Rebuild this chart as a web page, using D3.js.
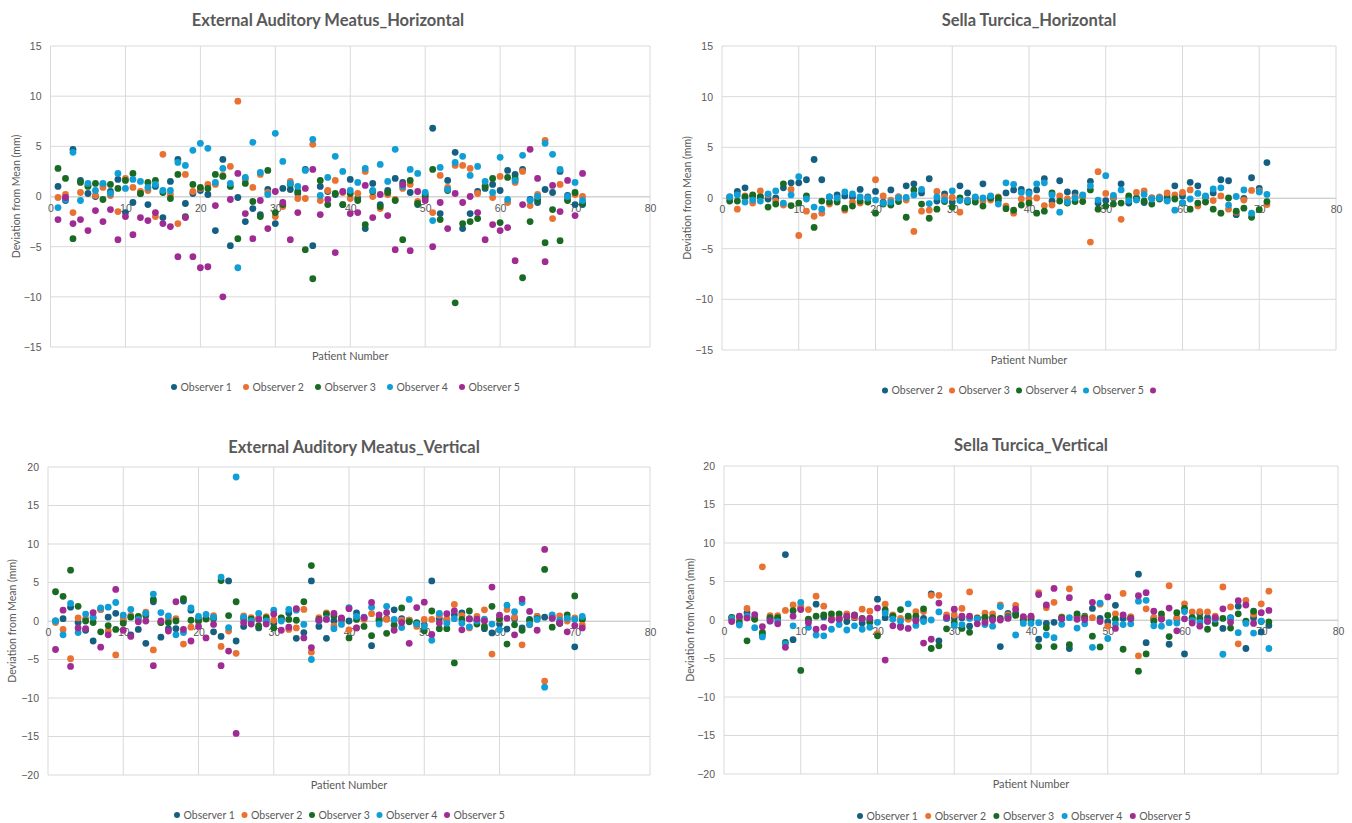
<!DOCTYPE html>
<html>
<head>
<meta charset="utf-8">
<script src="https://cdn.jsdelivr.net/npm/d3@7"></script>
<style>
  html, body { margin: 0; padding: 0; background: #ffffff; }
  svg { display: block; font-family: Lato, "Open Sans", "Liberation Sans", sans-serif; }
</style>
</head>
<body>
<svg id="chart" width="1352" height="823"></svg>
<script>
// ---------------- DATA ----------------
const patients = [1,2,3,4,5,6,7,8,9,10,11,12,13,14,15,16,17,18,19,20,21,22,23,24,25,26,27,28,29,30,31,32,33,34,35,36,37,38,39,40,41,42,43,44,45,46,47,48,49,50,51,52,53,54,55,56,57,58,59,60,61,62,63,64,65,66,67,68,69,70,71];
const xTicks = [0,10,20,30,40,50,60,70,80];
const yTicksH = [-15,-10,-5,0,5,10,15];
const yTicksV = [-20,-15,-10,-5,0,5,10,15,20];
const colors = ["#156082","#E97132","#196B24","#0F9ED5","#A02B93"];

const titles = ["External Auditory Meatus_Horizontal","Sella Turcica_Horizontal","External Auditory Meatus_Vertical","Sella Turcica_Vertical"];
const yAxisTitle = "Deviation from Mean (mm)";
const xAxisTitle = "Patient Number";
const legendNames = ["Observer 1","Observer 2","Observer 3","Observer 4","Observer 5"];
const legendNamesSTH = ["Observer 2","Observer 3","Observer 4","Observer 5",""];

// Panel 1: External Auditory Meatus_Horizontal
const eamH_obs1 = [1.0,-0.4,4.7,1.6,0.3,0.0,1.2,0.5,1.7,-1.6,-0.6,0.3,-0.8,1.0,-2.1,1.5,3.7,-0.7,0.3,0.6,0.2,-3.4,3.7,-4.9,-0.1,-2.5,-1.2,-1.8,0.7,-2.7,0.8,0.7,0.3,2.7,-4.9,1.0,0.5,0.2,-0.8,1.7,-0.2,-3.2,1.3,-0.8,0.6,1.8,1.4,0.4,-0.8,0.2,6.8,-1.7,1.6,4.4,-3.2,-1.7,0.5,0.8,1.2,0.6,2.6,2.2,2.7,-0.3,-0.6,0.7,0.4,2.5,0.1,-0.8,-0.8];
const eamH_obs2 = [-0.1,0.2,-1.6,0.4,1.1,0.1,0.9,0.1,-1.5,1.8,0.9,0.5,0.6,-2.0,4.2,0.2,-2.7,2.2,0.5,0.8,1.2,1.2,2.1,3.0,9.5,1.7,0.9,2.2,0.4,-2.0,-1.0,1.5,-0.2,-0.2,5.2,-0.4,0.6,1.6,0.4,-0.2,0.3,2.5,0.0,-1.2,0.2,-0.3,0.8,1.2,-0.5,-0.2,-1.6,2.1,0.9,3.1,3.1,2.8,0.3,1.1,-0.1,2.0,-0.6,1.4,2.5,-0.9,0.2,5.6,-2.2,1.2,-0.2,0.2,0.0];
const eamH_obs3 = [2.8,1.8,-4.2,1.4,1.0,1.3,-0.3,1.2,0.8,1.6,2.3,0.3,1.4,1.6,0.4,-0.2,2.2,-2.0,1.2,0.9,0.8,2.2,2.0,1.0,-4.2,1.3,-0.5,-2.0,2.6,-1.6,-0.8,1.2,0.5,-5.3,-8.2,1.6,-0.8,0.3,-0.8,0.3,-0.4,-2.8,0.5,-1.0,0.4,-0.4,-4.3,1.6,-0.7,0.0,2.7,-2.3,0.6,-10.6,-2.7,-2.5,-2.2,1.0,1.8,-2.6,1.9,1.8,-8.1,-2.5,-0.3,-4.6,-1.3,-4.4,-0.4,0.4,-0.7];
const eamH_obs4 = [-1.1,-0.3,4.4,-0.4,1.3,0.6,1.3,0.3,2.3,0.8,1.7,1.5,0.9,1.2,0.6,0.6,3.4,3.1,4.6,5.3,4.8,1.4,2.8,1.3,-7.1,1.9,5.4,2.4,0.2,6.3,3.5,1.3,1.0,2.6,5.7,0.1,1.9,4.0,2.5,0.6,1.4,2.8,0.6,3.2,1.5,4.7,1.0,2.7,2.3,0.4,-2.4,2.9,0.7,3.4,4.0,2.1,3.0,1.5,0.4,3.9,-0.3,1.6,4.1,-0.4,0.0,5.3,4.2,2.7,0.0,1.4,-0.4];
const eamH_obs5 = [-2.3,-0.1,-2.7,-2.3,-3.4,-1.4,-2.5,-1.3,-4.3,-2.0,-3.8,-2.1,-2.4,-1.6,-2.7,-3.0,-6.0,-2.1,-6.0,-7.1,-7.0,-0.9,-10.0,-0.3,2.3,-1.7,-4.2,-0.4,-3.2,0.5,-0.6,-4.3,-1.6,0.8,2.7,-1.8,-0.3,-5.6,0.5,-1.7,-1.6,1.1,-2.1,0.2,-1.9,-5.3,1.2,-5.4,0.5,-0.4,-5.0,-0.6,-3.2,0.3,-0.6,0.0,-1.6,-4.3,-2.8,-3.4,-3.1,-6.4,-0.8,4.7,1.8,-6.5,1.1,-1.5,1.6,-1.9,2.3];

// Panel 2: Sella Turcica_Horizontal (legend: Observer 2..5)
const stH_obs2 = [0.1,0.65,1.0,0.2,0.1,-0.1,0.0,1.0,1.5,1.5,1.8,3.8,1.8,0.1,0.3,0.2,0.1,0.85,0.1,0.65,-0.4,0.8,0.1,1.2,1.4,0.5,1.9,-0.3,0.4,-0.4,1.2,0.5,0.0,1.4,0.1,-0.25,0.5,0.8,0.85,0.6,0.8,1.9,-0.3,1.7,0.6,0.5,0.2,1.65,-0.5,-0.25,0.0,1.4,-0.5,0.0,-0.45,0.0,0.0,0.1,1.2,0.2,1.55,1.2,0.1,0.5,1.8,1.7,-1.65,-0.05,2.0,0.95,3.5];
const stH_obs3 = [0.0,-1.1,0.2,-0.5,0.7,0.3,-0.3,-0.7,0.85,-3.7,-1.3,-1.8,-1.5,-0.6,-0.2,-1.2,-0.4,-0.5,0.0,1.8,0.2,-0.2,0.1,-0.2,-3.3,-1.3,-1.2,0.65,0.1,0.05,-1.4,-0.2,-0.3,-0.3,-0.2,0.1,-0.8,-1.5,-0.1,-0.1,0.0,-0.75,-0.7,0.2,-0.1,0.1,0.1,-4.35,2.6,0.45,0.1,-2.1,0.0,0.55,0.7,0.0,0.1,0.5,0.3,0.55,0.8,-0.8,-0.3,-0.25,0.2,-1.1,-1.4,-0.2,0.75,0.7,-0.65];
const stH_obs4 = [-0.3,-0.3,0.1,0.3,0.1,-0.9,-0.6,1.4,-0.75,-0.5,0.2,-2.9,-0.3,-0.4,-0.4,-1.0,-0.8,-0.3,-0.4,-1.5,-0.6,-0.7,-0.35,-1.9,0.8,-0.6,-2.0,-1.1,-0.35,-0.9,0.0,-0.4,-0.4,-0.8,0.0,0.0,-1.05,-1.2,-0.7,-0.5,-1.5,-1.3,0.5,-0.3,-0.5,-0.35,-0.35,0.8,-1.1,-0.8,-0.6,-0.5,0.2,-0.1,-0.3,-0.6,-0.1,-0.2,-0.1,-0.5,-1.1,-0.5,-0.4,-1.1,-1.5,0.0,-1.3,-1.0,-1.9,-1.15,-0.35];
const stH_obs5 = [0.1,0.3,-0.4,-0.2,-0.3,0.4,0.7,-0.5,0.3,2.1,-0.1,-0.9,-1.1,0.1,0.0,0.6,0.4,0.1,0.0,-0.2,-0.5,-0.4,0.0,0.05,0.3,0.85,-0.55,0.1,-0.2,0.7,-0.25,-0.25,0.1,0.0,0.2,-0.6,1.5,1.35,0.55,0.45,1.4,1.5,0.3,-1.4,-0.4,0.0,0.3,1.2,-0.2,2.2,0.25,0.8,-0.25,-0.2,0.35,-0.1,0.0,-0.3,-1.2,-0.45,-0.1,0.45,0.2,0.9,1.0,-0.7,0.15,0.8,-1.5,0.6,0.35];

// Panel 3: External Auditory Meatus_Vertical
const eamV_obs1 = [0.0,0.3,1.8,-0.2,-1.2,-2.6,1.5,0.5,1.0,0.0,-1.8,-1.1,-2.9,2.5,-2.1,-1.0,-1.0,2.6,1.4,0.2,0.3,-1.4,-2.0,5.2,-2.6,-0.7,0.0,-0.9,0.0,-0.3,0.2,1.05,-2.25,-1.5,5.2,-0.7,-2.25,0.0,0.2,0.0,1.05,0.3,-3.2,0.0,0.3,1.45,0.3,0.1,-0.3,-0.5,5.2,0.3,0.2,0.8,1.05,0.3,0.1,-1.0,-1.55,-0.4,-1.05,0.3,-0.9,0.2,0.6,0.5,0.4,-0.3,0.3,-3.35,0.2];
const eamV_obs2 = [-0.2,-1.1,-4.9,0.4,0.3,0.35,1.5,-1.3,-4.4,0.3,0.7,0.5,1.15,-3.75,-0.2,0.2,0.3,-3.0,-0.8,0.0,0.3,0.7,-3.3,-1.3,-4.2,0.65,0.45,0.4,0.55,0.1,0.4,-1.1,-0.9,1.5,-4.05,0.45,1.05,-0.65,0.0,-1.15,-0.9,0.2,0.95,0.3,0.2,0.1,0.1,0.1,-0.7,0.2,0.2,0.75,0.25,2.15,0.7,-0.9,0.6,1.45,-4.3,0.2,1.5,0.5,-3.1,-0.5,0.6,-7.8,0.6,0.65,0.0,0.4,-0.5];
const eamV_obs3 = [3.8,3.2,6.6,1.9,0.0,-0.2,-1.4,-0.6,-1.1,-0.3,0.5,0.6,0.7,2.8,-0.2,-0.2,0.0,2.9,0.1,0.0,0.25,0.3,5.25,0.7,2.5,0.3,0.25,-0.65,0.4,-0.9,0.4,0.2,0.1,2.5,7.2,0.2,0.9,0.65,0.3,-2.2,0.2,-0.7,-1.9,0.2,-1.6,-0.55,1.7,-0.1,-0.2,-1.25,1.3,-1.0,-1.0,-5.45,0.2,1.3,-0.4,-0.7,1.9,0.3,-3.0,-0.5,-1.2,0.05,0.3,6.7,-0.8,-0.3,0.8,3.25,0.3];
const eamV_obs4 = [0.0,-1.8,2.3,-1.5,0.9,0.5,1.7,1.8,2.4,0.75,1.5,0.2,1.0,3.5,1.1,0.65,-1.8,-1.5,1.7,0.6,0.85,0.5,5.7,-0.85,18.7,0.5,0.0,1.0,0.0,1.4,0.0,1.5,1.4,-0.45,-5.0,0.0,0.3,-1.0,-0.45,1.75,0.6,0.5,1.8,-0.4,1.9,0.2,-0.85,2.8,-0.4,-0.7,-2.5,1.0,-0.3,0.3,-0.3,-0.75,0.0,0.25,-0.4,-1.15,2.05,1.2,2.4,-0.45,0.2,-8.6,0.8,0.1,0.35,0.2,0.6];
const eamV_obs5 = [-3.7,1.4,-5.9,-0.9,-1.0,1.1,-3.4,-1.8,4.1,-1.2,-2.0,-0.1,0.0,-5.8,0.0,-1.3,2.5,-1.1,-2.6,-0.7,-2.2,-0.45,-5.8,-3.9,-14.6,-0.2,-0.4,0.2,-0.4,0.9,-1.2,-0.8,1.6,-2.2,-3.45,0.1,0.2,1.0,0.4,1.6,-0.9,0.45,2.4,0.8,1.1,-1.2,-0.2,-2.9,1.75,2.45,-1.75,-0.25,0.95,1.3,-1.15,0.25,0.25,0.0,4.4,0.75,0.35,-1.8,2.85,1.25,-1.2,9.3,0.35,-0.25,-1.4,-0.6,-0.9];

// Panel 4: Sella Turcica_Vertical
const stV_obs1 = [0.2,0.3,0.95,0.3,-1.9,0.2,0.3,8.5,-2.55,1.5,0.0,2.05,0.4,0.1,0.2,-0.2,0.3,-0.4,0.0,2.7,0.3,0.5,-0.8,0.2,0.1,0.2,3.4,-2.7,0.2,0.3,0.3,-0.8,0.2,0.3,0.2,-3.45,0.85,0.85,0.2,0.3,-2.5,-0.45,-0.3,0.2,-3.7,0.4,0.5,1.5,0.2,-0.25,1.9,0.2,0.3,5.95,-2.95,0.2,0.2,-3.15,0.15,-4.4,0.2,0.85,0.3,0.2,-1.1,0.3,1.8,-3.7,0.3,-1.55,-0.7];
const stV_obs2 = [0.3,0.2,1.5,0.2,6.9,0.55,0.55,1.25,1.95,1.8,1.35,3.1,1.8,0.4,0.35,0.8,0.4,1.4,1.15,-1.8,2.05,0.65,0.2,0.1,1.1,1.1,3.2,3.2,0.65,0.65,1.5,3.65,0.3,0.9,0.8,1.95,0.65,1.9,0.3,0.45,3.55,1.6,2.3,0.4,4.05,0.5,0.4,0.3,2.05,-0.8,0.8,3.45,0.45,-4.65,1.45,0.35,0.5,4.45,0.3,2.1,1.05,1.1,1.05,0.5,4.3,1.7,-3.1,2.55,0.75,2.1,3.75];
const stV_obs3 = [0.35,-0.3,-2.7,0.1,-1.6,0.3,0.3,-2.9,1.2,-6.55,0.1,0.5,0.65,0.8,0.8,0.4,0.65,0.2,-0.3,-2.05,1.3,0.5,1.35,0.5,0.5,1.45,-3.7,-3.35,-1.15,-0.35,-1.1,-1.6,0.2,0.35,0.3,0.2,0.45,0.6,0.0,0.0,-3.45,-1.0,-3.45,0.3,-3.2,0.8,0.3,-2.1,-3.5,0.6,0.1,-3.8,0.2,-6.65,-4.4,-0.15,0.8,-2.15,0.95,1.5,0.3,0.2,-1.2,-0.45,0.2,-1.05,0.8,-0.15,1.15,-0.2,-0.25];
const stV_obs4 = [0.2,-0.65,0.5,-1.0,-2.2,-0.15,-0.2,-3.1,-0.75,2.3,-0.95,-1.95,-2.05,-1.2,-0.6,-1.3,-0.75,-1.2,-0.95,-0.3,0.9,0.1,-0.15,2.1,-0.7,-0.2,0.0,1.05,0.2,-0.7,-0.6,0.2,0.15,-0.6,-0.8,1.75,0.3,-1.95,-0.45,-0.45,-0.35,-1.95,-2.3,-0.55,0.3,-1.05,-0.5,-3.55,2.2,-2.4,-0.5,-0.6,-0.5,2.45,2.55,-0.75,-0.8,-0.35,-0.4,1.1,-0.1,-0.3,-0.2,0.1,-4.45,0.2,-1.65,-0.45,-1.7,-0.15,-3.7];
const stV_obs5 = [-0.2,0.5,0.25,0.7,-0.85,-0.1,-0.5,-3.55,0.5,1.35,-0.35,-1.2,-0.95,0.0,0.1,0.5,0.6,0.15,0.25,1.55,-5.2,-0.75,-0.95,-1.1,-0.1,-3.0,-2.5,2.2,0.3,1.4,0.5,0.5,-0.5,-0.3,0.0,0.0,0.2,1.4,0.45,0.5,3.3,1.95,4.1,0.15,2.9,0.1,0.05,2.3,-0.2,3.0,-1.1,0.65,0.15,3.15,3.55,1.15,0.1,1.55,-1.4,0.15,-0.4,-0.8,-0.15,0.3,1.45,-0.3,2.5,1.95,-0.45,0.95,1.25];

// ---------------- DRAWING ----------------
const svg = d3.select("#chart");
const gridColor = "#d9d9d9";
const textColor = "#595959";

const panels = [
  { title: titles[0], titleX: 328, titleY: 20,
    x0: 50.5, x1: 650, yTop: 46, yBot: 347, yDomain: [-15,15], yTicks: yTicksH,
    series: [eamH_obs1, eamH_obs2, eamH_obs3, eamH_obs4, eamH_obs5], seriesColors: colors,
    legend: legendNames, legendColors: colors, legendStart: 174, legendStep: 72, legendY: 387,
    yTitleX: 16, xTitleY: 356 },
  { title: titles[1], titleX: 1029, titleY: 20,
    x0: 722, x1: 1336, yTop: 46, yBot: 350, yDomain: [-15,15], yTicks: yTicksH,
    series: [stH_obs2, stH_obs3, stH_obs4, stH_obs5], seriesColors: colors.slice(0,4),
    legend: legendNamesSTH, legendColors: colors, legendStart: 885, legendStep: 67, legendY: 390.5,
    yTitleX: 687, xTitleY: 360 },
  { title: titles[2], titleX: 354, titleY: 447,
    x0: 48, x1: 650, yTop: 467, yBot: 775, yDomain: [-20,20], yTicks: yTicksV,
    series: [eamV_obs1, eamV_obs2, eamV_obs3, eamV_obs4, eamV_obs5], seriesColors: colors,
    legend: legendNames, legendColors: colors, legendStart: 177, legendStep: 67.5, legendY: 815,
    yTitleX: 12, xTitleY: 785 },
  { title: titles[3], titleX: 1031, titleY: 445,
    x0: 724, x1: 1338, yTop: 466, yBot: 774, yDomain: [-20,20], yTicks: yTicksV,
    series: [stV_obs1, stV_obs2, stV_obs3, stV_obs4, stV_obs5], seriesColors: colors,
    legend: legendNames, legendColors: colors, legendStart: 860, legendStep: 68.2, legendY: 816,
    yTitleX: 690, xTitleY: 784 }
];

panels.forEach(p => {
  const x = d3.scaleLinear().domain([0,80]).range([p.x0, p.x1]);
  const y = d3.scaleLinear().domain(p.yDomain).range([p.yBot, p.yTop]);
  const g = svg.append("g");

  // horizontal gridlines
  g.append("g").selectAll("line").data(p.yTicks).join("line")
    .attr("x1", p.x0).attr("x2", p.x1)
    .attr("y1", d => y(d)).attr("y2", d => y(d))
    .attr("stroke", gridColor).attr("stroke-width", 1);
  // vertical gridlines
  g.append("g").selectAll("line").data(xTicks).join("line")
    .attr("x1", d => x(d)).attr("x2", d => x(d))
    .attr("y1", p.yTop).attr("y2", p.yBot)
    .attr("stroke", gridColor).attr("stroke-width", 1);

  // y axis labels
  const yAxis = d3.axisLeft(y).tickValues(p.yTicks).tickSize(0).tickPadding(9);
  const ya = g.append("g").attr("transform", `translate(${p.x0},0)`).call(yAxis);
  ya.select(".domain").remove();
  ya.selectAll("text").attr("fill", textColor).style("font-size", "10.5px");

  // x axis labels at zero line
  const xAxis = d3.axisBottom(x).tickValues(xTicks).tickSize(0).tickPadding(8);
  const xa = g.append("g").attr("transform", `translate(0,${y(0)})`).call(xAxis);
  xa.select(".domain").attr("stroke", "#d0d0d0");
  xa.selectAll("text").attr("fill", textColor).style("font-size", "10.5px");

  // points
  p.series.forEach((vals, si) => {
    g.append("g").selectAll("circle").data(vals).join("circle")
      .attr("cx", (d, i) => x(patients[i]))
      .attr("cy", d => y(d))
      .attr("r", 3.4)
      .attr("fill", p.seriesColors[si]);
  });

  // title
  g.append("text").attr("x", p.titleX).attr("y", p.titleY).attr("dy", "0.35em")
    .attr("text-anchor", "middle").attr("fill", textColor)
    .style("font-size", "16.5px").style("font-weight", "bold").text(p.title);

  // y axis title
  const cy = (p.yTop + p.yBot) / 2;
  g.append("text").attr("transform", `translate(${p.yTitleX},${cy}) rotate(-90)`)
    .attr("text-anchor", "middle").attr("dy", "0.35em").attr("fill", textColor)
    .style("font-size", "10.5px").text(yAxisTitle);

  // x axis title
  g.append("text").attr("x", (p.x0 + p.x1) / 2).attr("y", p.xTitleY).attr("dy", "0.35em")
    .attr("text-anchor", "middle").attr("fill", textColor)
    .style("font-size", "11px").text(xAxisTitle);

  // legend
  const lg = g.append("g");
  p.legend.forEach((name, i) => {
    const lx = p.legendStart + i * p.legendStep;
    lg.append("circle").attr("cx", lx).attr("cy", p.legendY).attr("r", 3).attr("fill", p.legendColors[i]);
    lg.append("text").attr("x", lx + 6.5).attr("y", p.legendY).attr("dy", "0.35em")
      .attr("fill", textColor).style("font-size", "10.5px").text(name);
  });
});
</script>
</body>
</html>
